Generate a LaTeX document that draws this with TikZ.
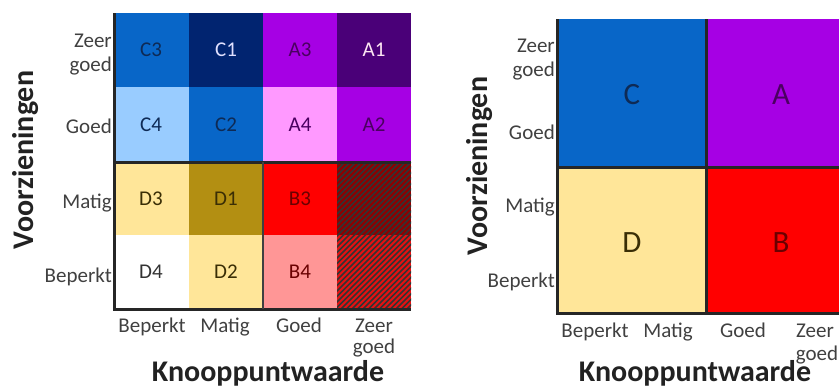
\documentclass[tikz,border=0pt]{standalone}
\usepackage{fontspec}
\setmainfont{Carlito}
\definecolor{cMid}{HTML}{0866C8}
\definecolor{cNavy}{HTML}{012470}
\definecolor{cLight}{HTML}{99CCFF}
\definecolor{aMid}{HTML}{A600E4}
\definecolor{aDark}{HTML}{4A0078}
\definecolor{aPink}{HTML}{FF99FF}
\definecolor{dYel}{HTML}{FFE699}
\definecolor{dGold}{HTML}{B38F12}
\definecolor{bRed}{HTML}{FF0000}
\definecolor{bPink}{HTML}{FF9696}
\definecolor{hDark}{HTML}{8E0000}
\definecolor{hRed}{HTML}{E41212}
\definecolor{tickgray}{HTML}{404040}
\definecolor{titleblack}{HTML}{222222}
\definecolor{txNavy}{HTML}{0E2A55}
\definecolor{txPurp}{HTML}{4A0060}
\definecolor{txBrown}{HTML}{3A2E05}
\definecolor{txRed}{HTML}{6A0000}
\begin{document}
\begin{tikzpicture}[x=1pt,y=-1pt,
  tick/.style={font=\fontsize{21}{24}\selectfont, text=tickgray, inner sep=0pt},
  tightstack/.style={font=\fontsize{21}{21}\selectfont},
  celllab/.style={font=\fontsize{21}{24}\selectfont, inner sep=0pt},
  biglab/.style={font=\fontsize{31}{34}\selectfont, inner sep=0pt},
  axtitle/.style={font=\fontsize{30}{34}\selectfont\bfseries, text=titleblack, inner sep=0pt},
  gridline/.style={line width=3pt, draw=black!85},
  hatchline/.style={line width=1.7pt, draw=black!80}]
\useasboundingbox (0,0) rectangle (839,388);
\clip (0,0) rectangle (839,388);

% ---------- left grid ----------
\fill[cMid]   (114,13) rectangle (189,87);
\fill[cNavy]  (189,13) rectangle (263,87);
\fill[aMid]   (263,13) rectangle (337,87);
\fill[aDark]  (337,13) rectangle (411,87);
\fill[cLight] (114,87) rectangle (189,162);
\fill[cMid]   (189,87) rectangle (263,162);
\fill[aPink]  (263,87) rectangle (337,162);
\fill[aMid]   (337,87) rectangle (411,162);
\fill[dYel]   (114,162) rectangle (189,235);
\fill[dGold]  (189,162) rectangle (263,235);
\fill[bRed]   (263,162) rectangle (337,235);
\fill[hDark]  (337,162) rectangle (411,235);
\fill[white]  (114,235) rectangle (189,309);
\fill[dYel]   (189,235) rectangle (263,309);
\fill[bPink]  (263,235) rectangle (337,309);
\fill[hRed]   (337,235) rectangle (411,309);
\begin{scope}
  \clip (337,162) rectangle (411,309);
  \foreach \s in {0,5.5,...,240} {
    \draw[hatchline] (337-150+\s,309) -- ++(160,-160);
  }
\end{scope}

\node[celllab, text=txNavy]  (c3) at (151,50) {C3};
\node[celllab, text=white!88!blue] (c1) at (226,50) {C1};
\node[celllab, text=txPurp]  (a3) at (300,50) {A3};
\node[celllab, text=white!90!magenta] (a1) at (374,50) {A1};
\node[celllab, text=txNavy]  (c4) at (151,125) {C4};
\node[celllab, text=txNavy]  (c2) at (226,125) {C2};
\node[celllab, text=txPurp]  (a4) at (300,125) {A4};
\node[celllab, text=txPurp]  (a2) at (374,125) {A2};
\node[celllab, text=txBrown] (d3) at (151,199) {D3};
\node[celllab, text=txBrown] (d1) at (226,199) {D1};
\node[celllab, text=txRed]   (b3) at (300,199) {B3};
\node[celllab, text=black!80] (d4) at (151,272) {D4};
\node[celllab, text=txBrown] (d2) at (226,272) {D2};
\node[celllab, text=txRed]   (b4) at (300,272) {B4};

\draw[gridline] (114,13) -- (114,309) -- (411,309);
\draw[gridline] (114,162) -- (411,162);
\draw[line width=2.5pt, draw=black!75] (263,162) -- (263,309);

\node[tick, anchor=base east, align=right] (ly1) at (112,71) {Zeer\\goed};
\node[tick, anchor=base east] (ly2) at (112,133) {Goed};
\node[tick, anchor=base east] (ly3) at (112,208) {Matig};
\node[tick, anchor=base east] (ly4) at (112,282) {Beperkt};
\node[tick, anchor=base] (lx1) at (152,332) {Beperkt};
\node[tick, anchor=base] (lx2) at (225,332) {Matig};
\node[tick, anchor=base] (lx3) at (299,332) {Goed};
\node[tick, tightstack, anchor=base, align=center] (lx4) at (374,353) {Zeer\\goed};
\node[axtitle, anchor=base] (lxt) at (268,381) {Knooppuntwaarde};
\node[axtitle, anchor=base, rotate=90] (lyt) at (33,160) {Voorzieningen};

% ---------- right grid ----------
\fill[cMid] (557,19) rectangle (706,167);
\fill[aMid] (706,19) rectangle (855,167);
\fill[dYel] (557,167) rectangle (706,313);
\fill[bRed] (706,167) rectangle (855,313);
\node[biglab, text=txNavy]  (rc) at (632,95) {C};
\node[biglab, text=txPurp]  (ra) at (781,95) {A};
\node[biglab, text=txBrown] (rd) at (632,243) {D};
\node[biglab, text=txRed]   (rb) at (781,243) {B};
\draw[gridline] (557,19) -- (557,313) -- (855,313);
\draw[gridline] (557,167) -- (855,167);
\draw[gridline] (706,19) -- (706,313);

\node[tick, anchor=base east, align=right] (ry1) at (555,76) {Zeer\\goed};
\node[tick, anchor=base east] (ry2) at (555,139) {Goed};
\node[tick, anchor=base east] (ry3) at (555,212) {Matig};
\node[tick, anchor=base east] (ry4) at (555,287) {Beperkt};
\node[tick, anchor=base] (rx1) at (595,337) {Beperkt};
\node[tick, anchor=base] (rx2) at (668,337) {Matig};
\node[tick, anchor=base] (rx3) at (743,337) {Goed};
\node[tick, anchor=base] (rx4) at (815,337) {Zeer};
\node[tick, anchor=base] (rx5) at (817,360) {goed};
\node[axtitle, anchor=base] (rxt) at (695,381) {Knooppuntwaarde};
\node[axtitle, anchor=base, rotate=90] (ryt) at (487,166) {Voorzieningen};
\end{tikzpicture}
\end{document}
